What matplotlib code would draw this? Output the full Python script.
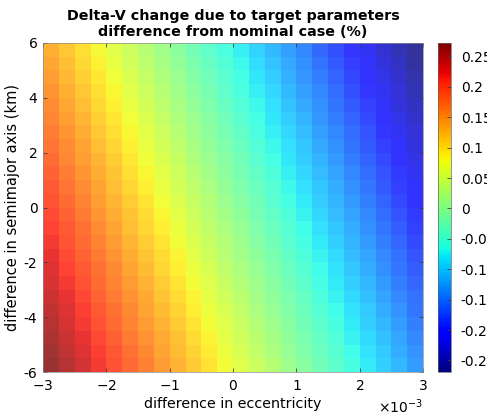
import numpy as np
import matplotlib
matplotlib.use("Agg")
import matplotlib.pyplot as plt
from matplotlib import cm, colors
from matplotlib.ticker import ScalarFormatter, FuncFormatter

plt.rcParams["font.family"] = ["DejaVu Sans"]
plt.rcParams["axes.unicode_minus"] = False

# grid edges: eccentricity offset and semimajor-axis offset (km)
ecc_edges = np.linspace(-3e-3, 3e-3, 25)
sma_edges = np.linspace(-6, 6, 25)

# Delta-V change (%) per cell; rows go from sma = -6 km (first) to +6 km (last),
# columns from ecc offset -3e-3 to +3e-3
dv_change = np.array([
    [0.272, 0.254, 0.237, 0.219, 0.202, 0.184, 0.167, 0.149, 0.132, 0.114, 0.097, 0.079, 0.062, 0.044, 0.027, 0.009, -0.008, -0.026, -0.043, -0.061, -0.078, -0.096, -0.113, -0.131],
    [0.266, 0.248, 0.231, 0.213, 0.196, 0.178, 0.161, 0.143, 0.126, 0.108, 0.091, 0.073, 0.056, 0.038, 0.021, 0.003, -0.014, -0.032, -0.049, -0.067, -0.084, -0.102, -0.119, -0.137],
    [0.260, 0.242, 0.225, 0.207, 0.190, 0.172, 0.155, 0.137, 0.120, 0.102, 0.085, 0.067, 0.050, 0.032, 0.015, -0.003, -0.020, -0.038, -0.055, -0.073, -0.090, -0.108, -0.125, -0.143],
    [0.254, 0.236, 0.219, 0.201, 0.184, 0.166, 0.149, 0.131, 0.114, 0.096, 0.079, 0.061, 0.044, 0.026, 0.009, -0.009, -0.026, -0.044, -0.061, -0.079, -0.096, -0.114, -0.131, -0.149],
    [0.248, 0.230, 0.213, 0.195, 0.178, 0.160, 0.143, 0.125, 0.108, 0.090, 0.073, 0.055, 0.038, 0.020, 0.003, -0.015, -0.032, -0.050, -0.067, -0.085, -0.102, -0.120, -0.137, -0.155],
    [0.242, 0.224, 0.207, 0.189, 0.172, 0.154, 0.137, 0.119, 0.102, 0.084, 0.067, 0.049, 0.032, 0.014, -0.003, -0.021, -0.038, -0.056, -0.073, -0.091, -0.108, -0.126, -0.143, -0.161],
    [0.236, 0.218, 0.201, 0.183, 0.166, 0.148, 0.131, 0.113, 0.096, 0.078, 0.061, 0.043, 0.026, 0.008, -0.009, -0.027, -0.044, -0.062, -0.079, -0.097, -0.114, -0.132, -0.149, -0.167],
    [0.230, 0.212, 0.195, 0.177, 0.160, 0.142, 0.125, 0.107, 0.090, 0.072, 0.055, 0.037, 0.020, 0.002, -0.015, -0.033, -0.050, -0.068, -0.085, -0.103, -0.120, -0.138, -0.155, -0.173],
    [0.224, 0.206, 0.189, 0.171, 0.154, 0.136, 0.119, 0.101, 0.084, 0.066, 0.049, 0.031, 0.014, -0.004, -0.021, -0.039, -0.056, -0.074, -0.091, -0.109, -0.126, -0.144, -0.161, -0.179],
    [0.218, 0.200, 0.183, 0.165, 0.148, 0.130, 0.113, 0.095, 0.078, 0.060, 0.043, 0.025, 0.008, -0.010, -0.027, -0.045, -0.062, -0.080, -0.097, -0.115, -0.132, -0.150, -0.167, -0.185],
    [0.212, 0.194, 0.177, 0.159, 0.142, 0.124, 0.107, 0.089, 0.072, 0.054, 0.037, 0.019, 0.002, -0.016, -0.033, -0.051, -0.068, -0.086, -0.103, -0.121, -0.138, -0.156, -0.173, -0.191],
    [0.206, 0.188, 0.171, 0.153, 0.136, 0.118, 0.101, 0.083, 0.066, 0.048, 0.031, 0.013, -0.004, -0.022, -0.039, -0.057, -0.074, -0.092, -0.109, -0.127, -0.144, -0.162, -0.179, -0.197],
    [0.200, 0.182, 0.165, 0.147, 0.130, 0.112, 0.095, 0.077, 0.060, 0.042, 0.025, 0.007, -0.010, -0.028, -0.045, -0.063, -0.080, -0.098, -0.115, -0.133, -0.150, -0.168, -0.185, -0.203],
    [0.194, 0.176, 0.159, 0.141, 0.124, 0.106, 0.089, 0.071, 0.054, 0.036, 0.019, 0.001, -0.016, -0.034, -0.051, -0.069, -0.086, -0.104, -0.121, -0.139, -0.156, -0.174, -0.191, -0.209],
    [0.188, 0.170, 0.153, 0.135, 0.118, 0.100, 0.083, 0.065, 0.048, 0.030, 0.013, -0.005, -0.022, -0.040, -0.057, -0.075, -0.092, -0.110, -0.127, -0.145, -0.162, -0.180, -0.197, -0.215],
    [0.182, 0.164, 0.147, 0.129, 0.112, 0.094, 0.077, 0.059, 0.042, 0.024, 0.007, -0.011, -0.028, -0.046, -0.063, -0.081, -0.098, -0.116, -0.133, -0.151, -0.168, -0.186, -0.203, -0.221],
    [0.176, 0.158, 0.141, 0.123, 0.106, 0.088, 0.071, 0.053, 0.036, 0.018, 0.001, -0.017, -0.034, -0.052, -0.069, -0.087, -0.104, -0.122, -0.139, -0.157, -0.174, -0.192, -0.209, -0.227],
    [0.170, 0.152, 0.135, 0.117, 0.100, 0.082, 0.065, 0.047, 0.030, 0.012, -0.005, -0.023, -0.040, -0.058, -0.075, -0.093, -0.110, -0.128, -0.145, -0.163, -0.180, -0.198, -0.215, -0.233],
    [0.164, 0.146, 0.129, 0.111, 0.094, 0.076, 0.059, 0.041, 0.024, 0.006, -0.011, -0.029, -0.046, -0.064, -0.081, -0.099, -0.116, -0.134, -0.151, -0.169, -0.186, -0.204, -0.221, -0.239],
    [0.158, 0.140, 0.123, 0.105, 0.088, 0.070, 0.053, 0.035, 0.018, 0.000, -0.017, -0.035, -0.052, -0.070, -0.087, -0.105, -0.122, -0.140, -0.157, -0.175, -0.192, -0.210, -0.227, -0.245],
    [0.152, 0.134, 0.117, 0.099, 0.082, 0.064, 0.047, 0.029, 0.012, -0.006, -0.023, -0.041, -0.058, -0.076, -0.093, -0.111, -0.128, -0.146, -0.163, -0.181, -0.198, -0.216, -0.233, -0.251],
    [0.146, 0.128, 0.111, 0.093, 0.076, 0.058, 0.041, 0.023, 0.006, -0.012, -0.029, -0.047, -0.064, -0.082, -0.099, -0.117, -0.134, -0.152, -0.169, -0.187, -0.204, -0.222, -0.239, -0.257],
    [0.140, 0.122, 0.105, 0.087, 0.070, 0.052, 0.035, 0.017, 0.000, -0.018, -0.035, -0.053, -0.070, -0.088, -0.105, -0.123, -0.140, -0.158, -0.175, -0.193, -0.210, -0.228, -0.245, -0.263],
    [0.134, 0.116, 0.099, 0.081, 0.064, 0.046, 0.029, 0.011, -0.006, -0.024, -0.041, -0.059, -0.076, -0.094, -0.111, -0.129, -0.146, -0.164, -0.181, -0.199, -0.216, -0.234, -0.251, -0.269],
])

x_ticks = [-3e-3, -2e-3, -1e-3, 0, 1e-3, 2e-3, 3e-3]
y_ticks = [-6, -4, -2, 0, 2, 4, 6]
cbar_ticks = [-0.25, -0.2, -0.15, -0.1, -0.05, 0, 0.05, 0.1, 0.15, 0.2, 0.25]

W, H = 487, 417
fig = plt.figure(figsize=(W / 100, H / 100), dpi=100)
ax = fig.add_axes([43 / W, 1 - 372 / H, 380 / W, 329 / H])
cax = fig.add_axes([438 / W, 1 - 372 / H, 13 / W, 329 / H])

norm = colors.Normalize(vmin=dv_change.min(), vmax=dv_change.max())
cmap = plt.get_cmap("jet")
ax.pcolormesh(ecc_edges, sma_edges, dv_change, cmap=cmap, norm=norm,
              alpha=0.8, shading="flat", edgecolors="none", antialiased=False)

ax.set_xlim(-3e-3, 3e-3)
ax.set_ylim(-6, 6)
ax.set_xticks(x_ticks)
ax.set_yticks(y_ticks)
fmt = ScalarFormatter(useMathText=True)
fmt.set_powerlimits((-2, 2))
ax.xaxis.set_major_formatter(fmt)
ax.tick_params(direction="in", length=3, width=0.6, labelsize=10,
               top=True, right=True, color="0.25", pad=4)
ax.tick_params(axis="x", pad=5)
for s in ax.spines.values():
    s.set_linewidth(0.5)
    s.set_color("0.55")
ax.xaxis.get_offset_text().set_fontsize(10)

ax.set_xlabel("difference in eccentricity", fontsize=10.3, labelpad=3)
ax.set_ylabel("difference in semimajor axis (km)", fontsize=10.5, labelpad=3)
ax.set_title("Delta-V change due to target parameters\ndifference from nominal case (%)",
             fontsize=10.3, fontweight="bold", pad=5, linespacing=1.2)

sm = cm.ScalarMappable(norm=norm, cmap=cmap)
cb = fig.colorbar(sm, cax=cax)
cb.set_ticks(cbar_ticks)
cb.ax.yaxis.set_major_formatter(FuncFormatter(lambda v, p: "%g" % round(v, 2)))
cb.ax.tick_params(direction="in", length=3, width=0.6, labelsize=10, pad=7, color="0.25")
cb.outline.set_linewidth(0.5)
cb.outline.set_edgecolor("0.4")

fig.savefig("out.png", dpi=100)
